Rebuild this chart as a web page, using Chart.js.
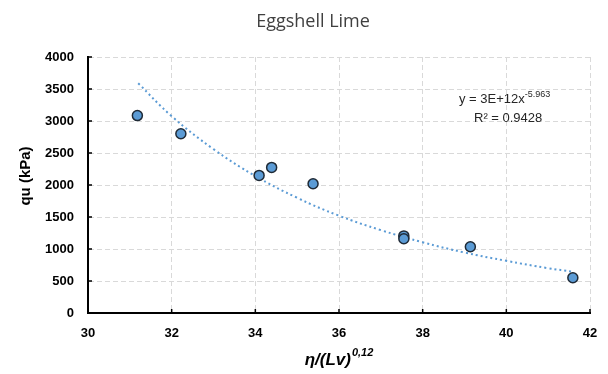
<!DOCTYPE html>
<html>
<head>
<meta charset="utf-8">
<script src="https://cdn.jsdelivr.net/npm/chart.js@4.4.1/dist/chart.umd.min.js"></script>
<style>
  html, body { margin: 0; padding: 0; background: #fff; }
</style>
</head>
<body>
<canvas id="myChart" width="608" height="374"></canvas>
<script>
// measured points
const ratio = [31.18, 32.22, 34.09, 34.39, 35.38, 37.55, 37.55, 39.14, 41.59];
const qu = [3085, 2800, 2150, 2275, 2020, 1205, 1160, 1035, 550];

// power trendline
const trendX = [31.2, 32, 33, 34, 35, 36, 37, 38, 39, 40, 41, 41.6];
const trendY = [3590, 3075, 2560, 2140, 1800, 1520, 1295, 1105, 945, 815, 700, 645];

const xTicks = [30, 32, 34, 36, 38, 40, 42];
const yTicks = [0, 500, 1000, 1500, 2000, 2500, 3000, 3500, 4000];

const chartTitle = "Eggshell Lime";
const yTitle = "qu (kPa)";
const xTitle = "η/(Lv)";
const xTitleSup = "0,12";
const eqText = "y = 3E+12x";
const eqSup = "-5.963";
const r2Text = "R² = 0.9428";

const blue = "#5b9bd5";

const extras = {
  id: "extras",
  afterDraw(chart) {
    const ctx = chart.ctx;
    const xs = chart.scales.x;
    const ys = chart.scales.y;
    const area = chart.chartArea;
    ctx.save();

    // inward tick marks
    ctx.strokeStyle = "#000";
    ctx.lineWidth = 1.5;
    xTicks.forEach((v) => {
      const px = xs.getPixelForValue(v);
      ctx.beginPath();
      ctx.moveTo(px, area.bottom);
      ctx.lineTo(px, area.bottom - 4);
      ctx.stroke();
    });
    yTicks.forEach((v) => {
      const py = ys.getPixelForValue(v);
      ctx.beginPath();
      ctx.moveTo(area.left, py);
      ctx.lineTo(area.left + 4, py);
      ctx.stroke();
    });

    // chart title
    ctx.fillStyle = "#404040";
    ctx.font = "18px 'Open Sans'";
    ctx.textAlign = "center";
    ctx.textBaseline = "middle";
    ctx.fillText(chartTitle, 313, 22);

    // y axis title
    ctx.save();
    ctx.translate(26, 176);
    ctx.rotate(-Math.PI / 2);
    ctx.fillStyle = "#000";
    ctx.font = "bold 15px 'Liberation Sans'";
    ctx.fillText(yTitle, 0, 0);
    ctx.restore();

    // x axis title with superscript
    ctx.fillStyle = "#000";
    ctx.textBaseline = "alphabetic";
    ctx.textAlign = "left";
    const mainFont = "italic bold 17px 'Liberation Sans'";
    const supFont = "italic bold 11px 'Liberation Sans'";
    ctx.font = mainFont;
    const w1 = ctx.measureText(xTitle).width;
    ctx.font = supFont;
    const w2 = ctx.measureText(xTitleSup).width;
    const cx = (area.left + area.right) / 2;
    const sx = cx - (w1 + w2 + 1) / 2;
    ctx.font = mainFont;
    ctx.fillText(xTitle, sx, 365);
    ctx.font = supFont;
    ctx.fillText(xTitleSup, sx + w1 + 1, 356);

    // trendline equation
    ctx.fillStyle = "#262626";
    const eqFont = "13px 'Liberation Sans'";
    const eqSupFont = "9px 'Liberation Sans'";
    ctx.font = eqFont;
    const e1 = ctx.measureText(eqText).width;
    ctx.fillText(eqText, 459, 103);
    ctx.font = eqSupFont;
    ctx.fillText(eqSup, 459 + e1, 97);
    ctx.font = eqFont;
    ctx.fillText(r2Text, 474, 122);

    ctx.restore();
  }
};

const ctx = document.getElementById("myChart").getContext("2d");
const myChart = new Chart(ctx, {
  type: "scatter",
  data: {
    datasets: [
      {
        label: "qu",
        data: ratio.map((x, i) => ({ x: x, y: qu[i] })),
        backgroundColor: blue,
        borderColor: "#1f2a36",
        borderWidth: 1.5,
        pointRadius: 5,
        order: 1,
      },
      {
        label: "Power trend",
        data: trendX.map((x, i) => ({ x: x, y: trendY[i] })),
        showLine: true,
        borderColor: blue,
        borderWidth: 2,
        borderDash: [2, 3],
        pointRadius: 0,
        tension: 0.4,
        fill: false,
        order: 2,
      },
    ],
  },
  plugins: [extras],
  options: {
    responsive: false,
    animation: false,
    devicePixelRatio: 1,
    layout: { padding: { top: 57, right: 18, left: 0, bottom: 0 } },
    plugins: {
      legend: { display: false },
      tooltip: { enabled: false },
      title: { display: false },
    },
    scales: {
      x: {
        type: "linear",
        min: 30,
        max: 42,
        afterBuildTicks: (scale) => { scale.ticks = xTicks.map((v) => ({ value: v })); },
        afterFit: (scale) => {
          scale.height = 61;
          scale.paddingRight = 0;
          scale.paddingLeft = 0;
        },
        border: { color: "#000", width: 2, dash: [5, 3] },
        grid: { color: "#d9d9d9", drawTicks: false },
        ticks: {
          padding: 13,
          color: "#000",
          font: { family: "'Liberation Sans'", size: 13, weight: "bold" },
          callback: (v) => String(v),
        },
      },
      y: {
        type: "linear",
        min: 0,
        max: 4000,
        afterBuildTicks: (scale) => { scale.ticks = yTicks.map((v) => ({ value: v })); },
        afterFit: (scale) => { scale.width = 88; },
        border: { color: "#000", width: 2, dash: [5, 3] },
        grid: { color: "#d9d9d9", drawTicks: false },
        ticks: {
          padding: 14,
          color: "#000",
          font: { family: "'Liberation Sans'", size: 13, weight: "bold" },
          callback: (v) => String(v),
        },
      },
    },
  },
});
</script>
</body>
</html>
